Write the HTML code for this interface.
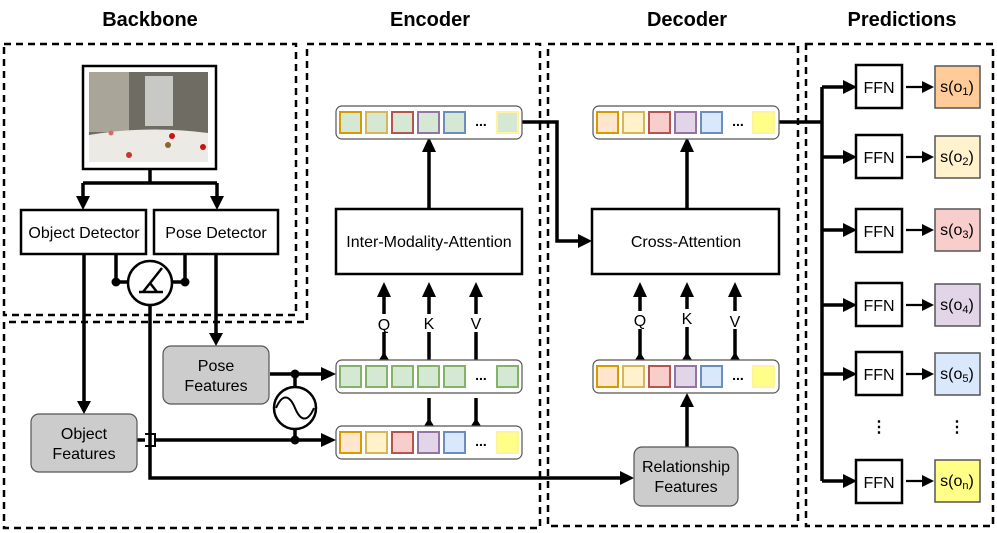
<!DOCTYPE html>
<html><head><meta charset="utf-8"><style>
html,body{margin:0;padding:0;background:#fff;}
svg{display:block;font-family:"Liberation Sans",sans-serif;}
</style></head><body>
<svg width="997" height="533" viewBox="0 0 997 533" xmlns="http://www.w3.org/2000/svg">
<g font-weight="bold" font-size="20" text-anchor="middle" fill="#000">
<text x="150" y="26">Backbone</text>
<text x="430" y="26">Encoder</text>
<text x="687" y="26">Decoder</text>
<text x="902" y="26">Predictions</text>
</g>
<g fill="none" stroke="#000" stroke-width="2.5" stroke-dasharray="7,5">
<path d="M4,44 H296 V315 H4 Z"/>
<path d="M307,44 H540 V528 H4 V322 H307 Z"/>
<path d="M548,44 H798 V526 H548 Z"/>
<path d="M806,44 H993 V526 H806 Z"/>
</g>
<!-- image -->
<rect x="83" y="66" width="133" height="103" fill="#fff" stroke="#000" stroke-width="2.5"/>
<rect x="89" y="72" width="119" height="90" fill="#6f6c64"/>
<rect x="89" y="72" width="40" height="60" fill="#a9a598"/>
<rect x="145" y="76" width="28" height="50" fill="#c8c8c4"/>
<path d="M89,135 Q148,125 208,133 V162 H89 Z" fill="#eceae4"/>
<circle cx="111" cy="133" r="2.5" fill="#d66"/><circle cx="168" cy="145" r="3" fill="#863"/><circle cx="172" cy="136" r="3" fill="#c11"/><circle cx="203" cy="147" r="3" fill="#c11"/><circle cx="129" cy="155" r="3" fill="#c33"/>
<g stroke="#000" stroke-width="3.5" fill="none">
<path d="M150,169 V183 M83,183 H217 M83,183 V198 M217,183 V198"/>
</g>
<path d="M76,196 H90 L83,210 Z M210,196 H224 L217,210 Z" fill="#000"/>
<rect x="21" y="210" width="125" height="44" fill="#fff" stroke="#000" stroke-width="2.5"/>
<rect x="154" y="210" width="124" height="44" fill="#fff" stroke="#000" stroke-width="2.5"/>
<text x="84" y="238" font-size="16" text-anchor="middle">Object Detector</text>
<text x="216" y="238" font-size="16" text-anchor="middle">Pose Detector</text>
<g stroke="#000" stroke-width="3.5" fill="none">
<path d="M116,254 V282 H128 M185,254 V282 H172"/>
<path d="M84,254 V402"/>
<path d="M216,254 V334"/>
<path d="M150,305 V478 H622"/>
<path d="M137,440 H145 M155,440 H322"/>
<path d="M270,374 H322"/>
<path d="M295,374 V387 M295,429 V440"/>
</g>
<path d="M145,434 H155 V446 H145" fill="none" stroke="#000" stroke-width="2"/>
<circle cx="116" cy="282" r="4.5" fill="#000"/><circle cx="185" cy="282" r="4.5" fill="#000"/>
<circle cx="150" cy="283" r="22" fill="#fff" stroke="#000" stroke-width="2.5"/>
<path d="M139,292 H163 M143,292 L162,268 M150,283 L157,292" stroke="#000" stroke-width="2.5" fill="none"/>
<path d="M77,401 H91 L84,414 Z M209,333 H223 L216,346 Z" fill="#000"/>
<rect x="31" y="414" width="106" height="58" rx="8" fill="#cccccc" stroke="#555" stroke-width="1.2"/>
<text x="84" y="439" font-size="16" text-anchor="middle">Object</text>
<text x="84" y="459" font-size="16" text-anchor="middle">Features</text>
<rect x="163" y="346" width="106" height="58" rx="8" fill="#cccccc" stroke="#555" stroke-width="1.2"/>
<text x="216" y="371" font-size="16" text-anchor="middle">Pose</text>
<text x="216" y="391" font-size="16" text-anchor="middle">Features</text>
<circle cx="295" cy="374" r="4.5" fill="#000"/><circle cx="295" cy="440" r="4.5" fill="#000"/>
<circle cx="295" cy="408" r="21" fill="#fff" stroke="#000" stroke-width="2.5"/>
<path d="M276,408 C283,392 290,396 295,408 C300,420 307,424 314,408" fill="none" stroke="#000" stroke-width="2"/>
<path d="M321,367 L336,374 L321,381 Z M321,433 L336,440 L321,447 Z M620,471 L634,478 L620,485 Z" fill="#000"/>
<g stroke="#000" stroke-width="3.5" fill="none">
<path d="M429,209 V150 M384,360 V295 M429,360 V295 M476,360 V295 M429,426 V398 M476,426 V398"/>
<path d="M522,122 H557 V241 H580"/>
<path d="M687,209 V150 M640,360 V295 M687,360 V295 M735,360 V295 M687,447 V405"/>
<path d="M779,122 H822 M822,87 V481 M822,87 H845 M822,157 H845 M822,230 H845 M822,305 H845 M822,374 H845 M822,481 H845"/>
</g>
<path d="M422,152 L429,137 L436,152 Z M377,297 L384,282 L391,297 Z M422,297 L429,282 L436,297 Z M469,297 L476,282 L483,297 Z M578,234 L592,241 L578,248 Z
M680,152 L687,137 L694,152 Z M633,297 L640,282 L647,297 Z M680,297 L687,282 L694,297 Z M728,297 L735,282 L742,297 Z M680,407 L687,393 L694,407 Z" fill="#000"/>
<g fill="#000"><path d="M379,360 L384,352 L389,360 Z M424,426 L429,418 L434,426 Z M471,426 L476,418 L481,426 Z M635,360 L640,352 L645,360 Z M682,360 L687,352 L692,360 Z M730,360 L735,352 L740,360 Z"/></g>
<g fill="#000"><path d="M843,80 L857,87 L843,94 Z M843,150 L857,157 L843,164 Z M843,223 L857,230 L843,237 Z M843,298 L857,305 L843,312 Z M843,367 L857,374 L843,381 Z M843,474 L857,481 L843,488 Z"/></g>
<g fill="#fff"><rect x="373" y="314" width="22" height="18"/><rect x="418" y="314" width="22" height="18"/><rect x="465" y="314" width="22" height="18"/>
<rect x="629" y="311" width="22" height="18"/><rect x="676" y="309" width="22" height="18"/><rect x="724" y="311" width="22" height="18"/></g>
<g font-size="16" text-anchor="middle"><text x="384" y="330">Q</text><text x="429" y="329">K</text><text x="476" y="329">V</text>
<text x="640" y="326">Q</text><text x="687" y="324">K</text><text x="735" y="327">V</text></g>
<rect x="336" y="209" width="186" height="65" fill="#fff" stroke="#000" stroke-width="2.5"/>
<text x="429" y="247" font-size="16" text-anchor="middle">Inter-Modality-Attention</text>
<rect x="592" y="209" width="187" height="65" fill="#fff" stroke="#000" stroke-width="2.5"/>
<text x="686" y="247" font-size="16" text-anchor="middle">Cross-Attention</text>
<g stroke="#555" stroke-width="1.2" fill="#fff">
<rect x="336" y="106" width="186" height="33" rx="6"/><rect x="336" y="360" width="186" height="33" rx="6"/><rect x="336" y="426" width="186" height="33" rx="6"/>
<rect x="593" y="106" width="186" height="33" rx="6"/><rect x="593" y="360" width="186" height="33" rx="6"/>
</g>
<g stroke-width="2">
<rect x="340" y="112" width="21" height="21" fill="#d5e8d4" stroke="#d79b00"/>
<rect x="366" y="112" width="21" height="21" fill="#d5e8d4" stroke="#d6b656"/>
<rect x="392" y="112" width="21" height="21" fill="#d5e8d4" stroke="#b85450"/>
<rect x="418" y="112" width="21" height="21" fill="#d5e8d4" stroke="#9673a6"/>
<rect x="444" y="112" width="21" height="21" fill="#d5e8d4" stroke="#6c8ebf"/>
<rect x="497" y="112" width="21" height="21" fill="#d5e8d4" stroke="#fff2a0"/>
<rect x="340" y="366" width="21" height="21" fill="#d5e8d4" stroke="#82b366"/>
<rect x="366" y="366" width="21" height="21" fill="#d5e8d4" stroke="#82b366"/>
<rect x="392" y="366" width="21" height="21" fill="#d5e8d4" stroke="#82b366"/>
<rect x="418" y="366" width="21" height="21" fill="#d5e8d4" stroke="#82b366"/>
<rect x="444" y="366" width="21" height="21" fill="#d5e8d4" stroke="#82b366"/>
<rect x="497" y="366" width="21" height="21" fill="#d5e8d4" stroke="#82b366"/>
<rect x="340" y="432" width="21" height="21" fill="#ffe6cc" stroke="#d79b00"/>
<rect x="366" y="432" width="21" height="21" fill="#fff2cc" stroke="#d6b656"/>
<rect x="392" y="432" width="21" height="21" fill="#f8cecc" stroke="#b85450"/>
<rect x="418" y="432" width="21" height="21" fill="#e1d5e7" stroke="#9673a6"/>
<rect x="444" y="432" width="21" height="21" fill="#dae8fc" stroke="#6c8ebf"/>
<rect x="497" y="432" width="21" height="21" fill="#ffff88" stroke="#fff2a0"/>
<rect x="597" y="112" width="21" height="21" fill="#ffe6cc" stroke="#d79b00"/>
<rect x="623" y="112" width="21" height="21" fill="#fff2cc" stroke="#d6b656"/>
<rect x="649" y="112" width="21" height="21" fill="#f8cecc" stroke="#b85450"/>
<rect x="675" y="112" width="21" height="21" fill="#e1d5e7" stroke="#9673a6"/>
<rect x="701" y="112" width="21" height="21" fill="#dae8fc" stroke="#6c8ebf"/>
<rect x="753" y="112" width="21" height="21" fill="#ffff88" stroke="#fff2a0"/>
<rect x="597" y="366" width="21" height="21" fill="#ffe6cc" stroke="#d79b00"/>
<rect x="623" y="366" width="21" height="21" fill="#fff2cc" stroke="#d6b656"/>
<rect x="649" y="366" width="21" height="21" fill="#f8cecc" stroke="#b85450"/>
<rect x="675" y="366" width="21" height="21" fill="#e1d5e7" stroke="#9673a6"/>
<rect x="701" y="366" width="21" height="21" fill="#dae8fc" stroke="#6c8ebf"/>
<rect x="753" y="366" width="21" height="21" fill="#ffff88" stroke="#fff2a0"/>
</g>
<g font-size="14" font-weight="bold" text-anchor="middle"><text x="481" y="126">...</text><text x="481" y="380">...</text><text x="481" y="446">...</text><text x="738" y="126">...</text><text x="738" y="380">...</text></g>
<rect x="634" y="447" width="104" height="59" rx="8" fill="#cccccc" stroke="#555" stroke-width="1.2"/>
<text x="686" y="472" font-size="16" text-anchor="middle">Relationship</text>
<text x="686" y="492" font-size="16" text-anchor="middle">Features</text>
<g stroke="#000" stroke-width="2.5" fill="#fff">
<rect x="856" y="65" width="46" height="43"/><rect x="856" y="135" width="46" height="43"/><rect x="856" y="209" width="46" height="43"/>
<rect x="856" y="283" width="46" height="43"/><rect x="856" y="352" width="46" height="43"/><rect x="856" y="460" width="46" height="43"/>
</g>
<g font-size="16" text-anchor="middle">
<text x="879" y="93">FFN</text><text x="879" y="163">FFN</text><text x="879" y="237">FFN</text><text x="879" y="311">FFN</text><text x="879" y="380">FFN</text><text x="879" y="488">FFN</text>
</g>
<g stroke="#000" stroke-width="2.2"><path d="M906,87 H925 M906,157 H925 M906,230 H925 M906,305 H925 M906,374 H925 M906,481 H925"/></g>
<g fill="#000"><path d="M922,81 L934,87 L922,93 Z M922,151 L934,157 L922,163 Z M922,224 L934,230 L922,236 Z M922,299 L934,305 L922,311 Z M922,368 L934,374 L922,380 Z M922,475 L934,481 L922,487 Z"/></g>
<g stroke="#555" stroke-width="1.5">
<rect x="935" y="66" width="45" height="42" fill="#ffcc99"/><rect x="935" y="136" width="45" height="42" fill="#fff2cc"/><rect x="935" y="209" width="45" height="42" fill="#f8cecc"/>
<rect x="935" y="284" width="45" height="42" fill="#e1d5e7"/><rect x="935" y="353" width="45" height="42" fill="#dae8fc"/><rect x="935" y="460" width="45" height="42" fill="#ffff88"/>
</g>
<g font-size="16" text-anchor="middle">
<text x="957" y="92">s(o<tspan font-size="11" dy="3">1</tspan><tspan dy="-3">)</tspan></text>
<text x="957" y="162">s(o<tspan font-size="11" dy="3">2</tspan><tspan dy="-3">)</tspan></text>
<text x="957" y="235">s(o<tspan font-size="11" dy="3">3</tspan><tspan dy="-3">)</tspan></text>
<text x="957" y="310">s(o<tspan font-size="11" dy="3">4</tspan><tspan dy="-3">)</tspan></text>
<text x="957" y="379">s(o<tspan font-size="11" dy="3">5</tspan><tspan dy="-3">)</tspan></text>
<text x="957" y="486">s(o<tspan font-size="11" dy="3">n</tspan><tspan dy="-3">)</tspan></text>
<text x="879" y="432" font-weight="bold">⋮</text><text x="957" y="432" font-weight="bold">⋮</text>
</g>
</svg>
</body></html>
